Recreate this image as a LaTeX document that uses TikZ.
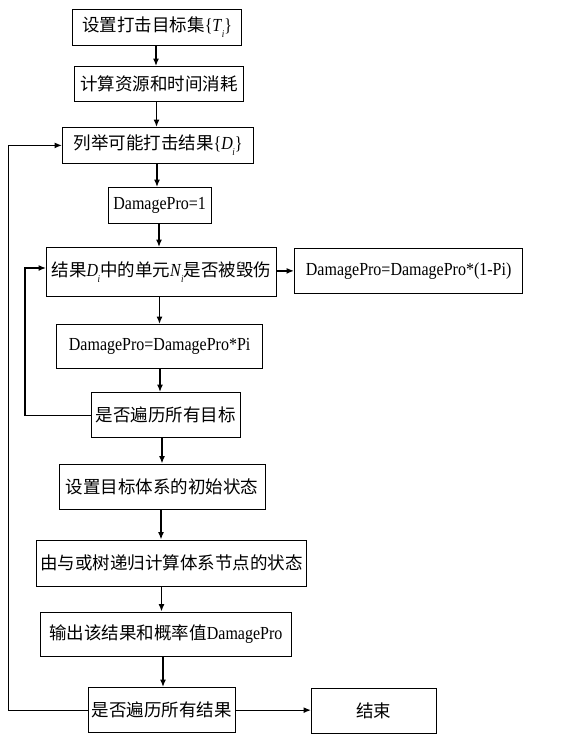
\documentclass[tikz,border=0pt]{standalone}
\usepackage{fontspec}
\usepackage{graphicx}
\setmainfont{Liberation Serif}
\newfontfamily\cjkfam{Noto Sans CJK SC}
\usetikzlibrary{arrows.meta}
\newcommand\zh[1]{{\fontsize{17.5}{20}\selectfont\cjkfam #1}}
\newcommand\lt[1]{\scalebox{1}[1.15]{#1}}
\newcommand\isub[2]{\lt{\textit{#1}\kern-0.5pt\raisebox{-0.7ex}{\fontsize{9}{9}\selectfont\textit{#2}}}}
\tikzset{
  box/.style={draw, line width=1.3pt, inner sep=0pt, anchor=north west,
    font=\fontsize{16}{18}\selectfont, align=center},
  arr/.style={line width=1.3pt, -{Latex[length=7.5pt,width=6pt]}}
}
\begin{document}
\begin{tikzpicture}[x=1pt,y=-1pt]
\useasboundingbox (0,0) rectangle (576,734);
\node[box, minimum width=169pt, minimum height=36pt] (b1) at (72,8.5) {\zh{设置打击目标集}\lt{\{}\isub{T}{i}\lt{\}}};
\node[box, minimum width=169pt, minimum height=35pt] (b2) at (74,66) {\zh{计算资源和时间消耗}};
\node[box, minimum width=191pt, minimum height=35.5pt] (b3) at (62,127) {\zh{列举可能打击结果}\lt{\{}\isub{D}{i}\lt{\}}};
\node[box, minimum width=103pt, minimum height=35.5pt] (b4) at (107.5,187) {\lt{DamagePro=1}};
\node[box, minimum width=229.5pt, minimum height=49pt] (b5) at (46,247) {\zh{结果}\isub{D}{i}\zh{中的单元}\isub{N}{i}\zh{是否被毁伤}};
\node[box, minimum width=228pt, minimum height=45.5pt] (b6) at (294,247.5) {\lt{DamagePro=DamagePro*(1-Pi)}};
\node[box, minimum width=206pt, minimum height=43.5pt] (b7) at (56,324) {\lt{DamagePro=DamagePro*Pi}};
\node[box, minimum width=148.5pt, minimum height=45pt] (b8) at (91,392) {\zh{是否遍历所有目标}};
\node[box, minimum width=206pt, minimum height=45pt] (b9) at (58.5,463.5) {\zh{设置目标体系的初始状态}};
\node[box, minimum width=269.5pt, minimum height=46pt] (b10) at (36,539.5) {\zh{由与或树递归计算体系节点的状态}};
\node[box, minimum width=251.5pt, minimum height=44.5pt] (b11) at (39.5,611.5) {\zh{输出该结果和概率值}\lt{DamagePro}};
\node[box, minimum width=147pt, minimum height=45pt] (b12) at (87.5,687) {\zh{是否遍历所有结果}};
\node[box, minimum width=124.5pt, minimum height=44.5pt] (b13) at (311,688) {\zh{结束}};
% arrow columns
\coordinate (a1) at (156,0);
\coordinate (a2) at (156.5,0);
\coordinate (a3) at (157,0);
\coordinate (a4) at (159,0);
\coordinate (a5) at (159.5,0);
\coordinate (a6) at (160,0);
\coordinate (a7) at (162,0);
\coordinate (a8) at (161,0);
\coordinate (a9) at (161.5,0);
\coordinate (a10) at (163,0);
\coordinate (ol) at (8.5,0);
\coordinate (il) at (25,268);
\draw[arr] (b1.south -| a1) -- (b2.north -| a1);
\draw[arr] (b2.south -| a2) -- (b3.north -| a2);
\draw[arr] (b3.south -| a3) -- (b4.north -| a3);
\draw[arr] (b4.south -| a4) -- (b5.north -| a4);
\draw[arr] (b5.south -| a5) -- (b7.north -| a5);
\draw[arr] (b7.south -| a6) -- (b8.north -| a6);
\draw[arr] (b8.south -| a7) -- (b9.north -| a7);
\draw[arr] (b9.south -| a8) -- (b10.north -| a8);
\draw[arr] (b10.south -| a9) -- (b11.north -| a9);
\draw[arr] (b11.south -| a10) -- (b12.north -| a10);
\draw[arr] (b5.east |- b6.west) -- (b6.west);
\draw[arr] (b12.east) -- (b13.west |- b12.east);
\draw[arr] (b8.west) -- (b8.west -| il) -- (il) -- (il -| b5.west);
\draw[arr] (b12.west) -- (b12.west -| ol) -- (b3.west -| ol) -- (b3.west);
\end{tikzpicture}
\end{document}
